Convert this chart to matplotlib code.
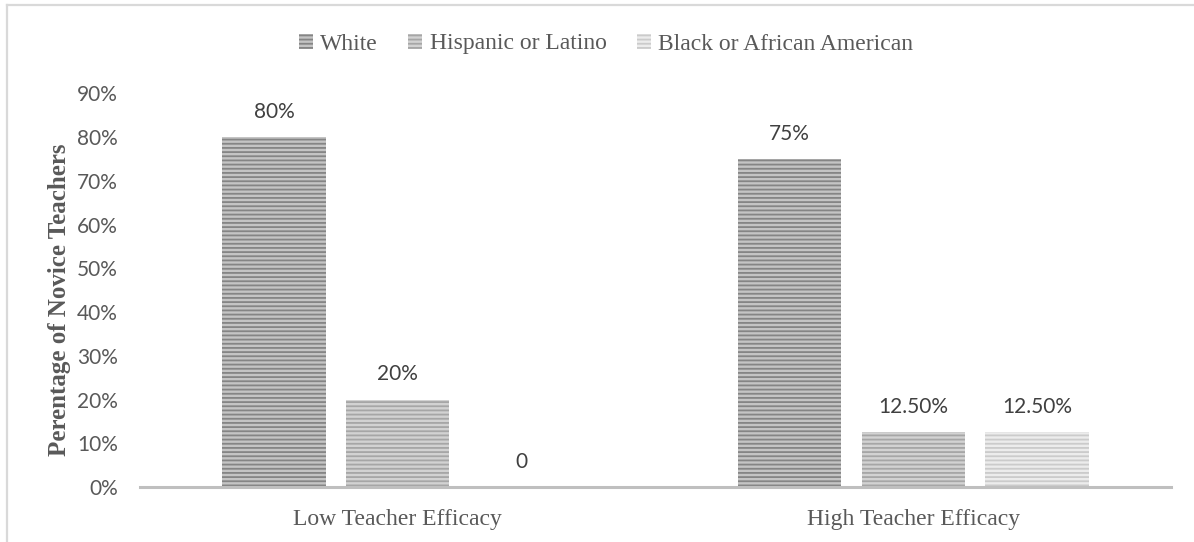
import matplotlib
matplotlib.use("Agg")
import matplotlib.pyplot as plt
from matplotlib.lines import Line2D
from matplotlib.ticker import FuncFormatter
import numpy as np

categories = ["Low Teacher Efficacy", "High Teacher Efficacy"]
series_names = ["White", "Hispanic or Latino", "Black or African American"]
white = [0.80, 0.75]
hispanic = [0.20, 0.125]
black = [0.0, 0.125]
labels_white = ["80%", "75%"]
labels_hispanic = ["20%", "12.50%"]
labels_black = ["0", "12.50%"]
yticks = [0, 0.1, 0.2, 0.3, 0.4, 0.5, 0.6, 0.7, 0.8, 0.9]

W, H = 1194, 542
fig = plt.figure(figsize=(W / 100, H / 100), dpi=100)
ax = fig.add_axes([140 / W, 1 - 487 / H, (1171 - 140) / W, (487 - 93.25) / H])

plt.rcParams['hatch.linewidth'] = 1.3

faces = ["#c4c4c4", "#d2d2d2", "#ececec"]
hatchc = ["#858585", "#a6a6a6", "#cbcbcb"]
serif = "Liberation Serif"
sans = "Lato"
tcol = "#595959"

x = np.arange(len(categories))
bw = 0.2
off = 0.24
data = [white, hispanic, black]
labs = [labels_white, labels_hispanic, labels_black]
handles = []
for i, (vals, lab) in enumerate(zip(data, labs)):
    xs = x + (i - 1) * off
    bars = ax.bar(xs, vals, width=bw, color=faces[i], edgecolor=hatchc[i],
                  linewidth=0, hatch="----", label=series_names[i])
    handles.append(bars)
    for xx, v, t in zip(xs, vals, lab):
        ax.annotate(t, (xx, v), xytext=(0, 18), textcoords="offset points",
                    ha="center", va="center", fontsize=15, family=sans, color="#404040")

ax.set_xlim(-0.5, 1.5)
ax.set_ylim(0, 0.9)
ax.set_yticks(yticks)
ax.yaxis.set_major_formatter(FuncFormatter(lambda v, p: f"{v*100:.0f}%"))
ax.set_xticks(x)
ax.set_xticklabels(categories)
for s in ["top", "right", "left"]:
    ax.spines[s].set_visible(False)
ax.spines["bottom"].set_color("#bfbfbf")
ax.spines["bottom"].set_linewidth(2.2)
ax.tick_params(axis="y", length=0, pad=16, labelsize=15, labelcolor=tcol)
ax.tick_params(axis="x", length=0, pad=16, labelsize=17, labelcolor=tcol)
for t in ax.get_yticklabels():
    t.set_family(sans)
for t in ax.get_xticklabels():
    t.set_family(serif)

fig.text(60 / W, 1 - 300 / H, "Perentage of Novice Teachers", rotation=90,
         ha="center", va="center", fontsize=18, fontweight="bold",
         family=serif, color=tcol)

leg = fig.legend(handles=handles, labels=series_names, loc="center",
                 bbox_to_anchor=(606 / W, 1 - 44 / H), ncol=3, frameon=False,
                 prop={"family": serif, "size": 17}, handlelength=0.6,
                 handleheight=0.6, handletextpad=0.3, columnspacing=1.3)
for t in leg.get_texts():
    t.set_color(tcol)

# outer border (left and top)
fig.add_artist(Line2D([7 / W, 7 / W], [0, 1 - 5 / H], transform=fig.transFigure,
                      color="#d9d9d9", linewidth=1.6))
fig.add_artist(Line2D([7 / W, 1], [1 - 5 / H, 1 - 5 / H], transform=fig.transFigure,
                      color="#d9d9d9", linewidth=1.6))

fig.savefig("out.png", dpi=100)
